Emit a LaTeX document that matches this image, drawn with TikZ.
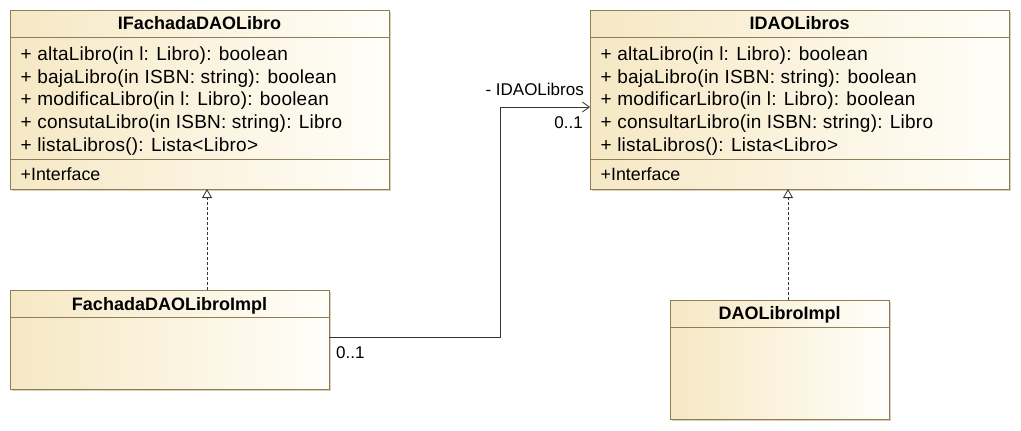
\documentclass[tikz,border=0pt]{standalone}
\usepackage{fontspec}
\setmainfont{Liberation Sans}
\usetikzlibrary{arrows.meta,shadows}
\definecolor{boxl}{HTML}{F6E8C4}
\definecolor{boxr}{HTML}{FFFEF9}
\definecolor{boxline}{HTML}{8E7E55}
\definecolor{shadowc}{HTML}{D8CFB6}
\definecolor{linec}{HTML}{3A3328}
\tikzset{
  classbox/.style={rectangle, draw=boxline, line width=1pt, inner sep=0pt, outer sep=0pt,
    left color=boxl, right color=boxr,
    drop shadow={shadow xshift=2pt, shadow yshift=-2pt, fill=shadowc, opacity=1}},
  sepline/.style={draw=boxline, line width=0.9pt},
  ctitle/.style={inner sep=0pt, anchor=base, font=\fontsize{18}{21}\selectfont\bfseries},
  cmember/.style={inner sep=0pt, anchor=base west, font=\fontsize{19}{22}\selectfont\addfontfeature{LetterSpace=1.2}},
  cattr/.style={inner sep=0pt, anchor=base west, font=\fontsize{17.8}{21}\selectfont},
  elabel/.style={inner sep=0pt, font=\fontsize{17}{20}\selectfont},
  realize/.style={draw=linec, line width=0.8pt, dash pattern=on 3pt off 2pt,
    -{Triangle[open, length=9pt, width=10pt, fill=white]}},
  assoc/.style={draw=linec, line width=0.8pt, -{Straight Barb[length=7pt, width=10pt]}}
}
\begin{document}
\begin{tikzpicture}[x=1pt,y=-1pt]
\useasboundingbox (0,0) rectangle (1021,431);
% class boxes
\node[classbox, anchor=north west, minimum width=379pt, minimum height=179pt] (b1) at (10,10) {};
\node[classbox, anchor=north west, minimum width=419pt, minimum height=179pt] (b2) at (590,10) {};
\node[classbox, anchor=north west, minimum width=319pt, minimum height=99pt] (b3) at (10,290) {};
\node[classbox, anchor=north west, minimum width=219pt, minimum height=119pt] (b4) at (670,300) {};
% separators
\draw[sepline] ([yshift=-27pt]b1.north west) -- ([yshift=-27pt]b1.north east);
\draw[sepline] ([yshift=-149pt]b1.north west) -- ([yshift=-149pt]b1.north east);
\draw[sepline] ([yshift=-27pt]b2.north west) -- ([yshift=-27pt]b2.north east);
\draw[sepline] ([yshift=-149pt]b2.north west) -- ([yshift=-149pt]b2.north east);
\draw[sepline] ([yshift=-27pt]b3.north west) -- ([yshift=-27pt]b3.north east);
\draw[sepline] ([yshift=-27pt]b4.north west) -- ([yshift=-27pt]b4.north east);
% titles
\node[ctitle] (t1) at ([yshift=-19pt]b1.north) {IFachadaDAOLibro};
\node[ctitle] (t2) at ([yshift=-19pt]b2.north) {IDAOLibros};
\node[ctitle] (t3) at ([yshift=-20pt]b3.north) {FachadaDAOLibroImpl};
\node[ctitle] (t4) at ([yshift=-19pt]b4.north) {DAOLibroImpl};
% members of IFachadaDAOLibro
\node[cmember] (m1a) at ([xshift=10.5pt,yshift=-50pt]b1.north west) {+ altaLibro(in l: Libro): boolean};
\node[cmember] (m1b) at ([xshift=10.5pt,yshift=-73pt]b1.north west) {+ bajaLibro(in ISBN: string): boolean};
\node[cmember] (m1c) at ([xshift=10.5pt,yshift=-95.5pt]b1.north west) {+ modificaLibro(in l: Libro): boolean};
\node[cmember] (m1d) at ([xshift=10.5pt,yshift=-118pt]b1.north west) {+ consutaLibro(in ISBN: string): Libro};
\node[cmember] (m1e) at ([xshift=10.5pt,yshift=-141pt]b1.north west) {+ listaLibros(): Lista<Libro>};
\node[cattr] (m1f) at ([xshift=10.5pt,yshift=-170pt]b1.north west) {+Interface};
% members of IDAOLibros
\node[cmember] (m2a) at ([xshift=10.5pt,yshift=-50pt]b2.north west) {+ altaLibro(in l: Libro): boolean};
\node[cmember] (m2b) at ([xshift=10.5pt,yshift=-73pt]b2.north west) {+ bajaLibro(in ISBN: string): boolean};
\node[cmember] (m2c) at ([xshift=10.5pt,yshift=-95.5pt]b2.north west) {+ modificarLibro(in l: Libro): boolean};
\node[cmember] (m2d) at ([xshift=10.5pt,yshift=-118pt]b2.north west) {+ consultarLibro(in ISBN: string): Libro};
\node[cmember] (m2e) at ([xshift=10.5pt,yshift=-141pt]b2.north west) {+ listaLibros(): Lista<Libro>};
\node[cattr] (m2f) at ([xshift=10.5pt,yshift=-170pt]b2.north west) {+Interface};
% realizations
\draw[realize] ([xshift=37.5pt]b3.north) -- ([xshift=37.5pt]b3.north |- b1.south);
\draw[realize] ([xshift=8.5pt]b4.north) -- ([xshift=8.5pt]b4.north |- b2.south);
% association
\coordinate (bend) at (500,107);
\draw[assoc] ([yshift=2.5pt]b3.east) -| (bend) -- ([yshift=-7.5pt]b2.west);
% association labels
\node[elabel, anchor=base east] (lrole) at ([xshift=-6pt,yshift=4.5pt]b2.west) {- IDAOLibros};
\node[elabel, anchor=base east] (lmul1) at ([xshift=-7pt,yshift=-28.5pt]b2.west) {0..1};
\node[elabel, anchor=base west] (lmul2) at ([xshift=7pt,yshift=-18.5pt]b3.east) {0..1};
\end{tikzpicture}
\end{document}
